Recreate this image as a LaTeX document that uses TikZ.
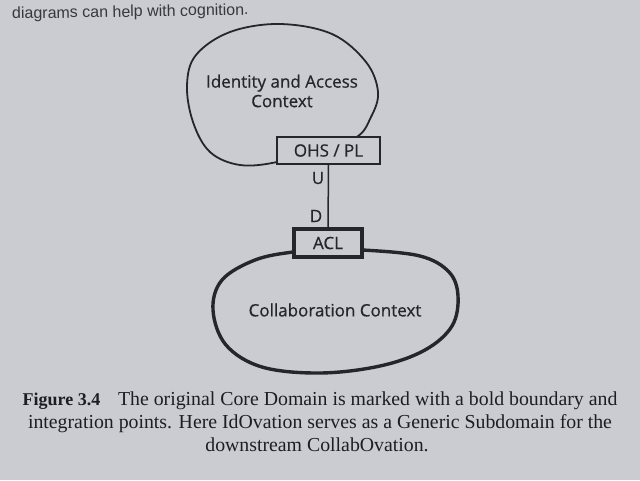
\documentclass[tikz,border=0pt]{standalone}
\usepackage{fontspec}
\setmainfont{Liberation Serif}
\newfontfamily\handfont[FakeBold=0.6]{Open Sans}
\newfontfamily\toptextfont{Liberation Sans}
\usetikzlibrary{calc}
\definecolor{paper}{RGB}{203,204,209}
\definecolor{ink}{RGB}{38,38,42}
\definecolor{printink}{RGB}{30,30,34}
\tikzset{
  blobline/.style={draw=ink, line width=1.8pt, line join=round},
  boldblob/.style={draw=ink, line width=3.4pt, line join=round},
  ctxbox/.style={draw=ink, fill=paper, line width=1.5pt, minimum width=103pt, minimum height=27pt, inner sep=0pt, font=\handfont\fontsize{17}{19}\selectfont, text=ink},
  boldbox/.style={draw=ink, fill=paper, line width=3.2pt, minimum width=68pt, minimum height=28pt, inner sep=0pt, font=\handfont\fontsize{17}{19}\selectfont, text=ink},
  ctxlabel/.style={font=\handfont\fontsize{17}{19.5}\selectfont, text=ink, align=center},
  udlabel/.style={font=\handfont\fontsize{17}{19}\selectfont, text=ink, inner sep=0pt},
  caption/.style={font=\fontsize{19.8}{23}\selectfont, text=printink, inner sep=0pt, anchor=base}
}
\begin{document}
\begin{tikzpicture}[x=1pt,y=-1pt]
\fill[paper] (0,0) rectangle (640,480);
\useasboundingbox (0,0) rectangle (640,480);
% top text
\node[font=\toptextfont\fontsize{16}{18}\selectfont, text=printink!85!paper, anchor=base west, rotate=1, inner sep=0pt] (toptext) at (12,19) {diagrams can help with cognition.};
% top blob
\draw[blobline] plot[smooth cycle, tension=0.6] coordinates {
  (310,150) (355,138) (371,117) (378,92) (366,62) (332,34) (280,24) (230,32) (196,55) (187,85) (193,122) (210,152) (240,165) (277,162)};
% bottom blob
\draw[boldblob] plot[smooth cycle, tension=0.6] coordinates {
  (328,250) (363,250) (420,256) (449,272) (458,296) (452,326) (425,350) (380,366) (320,373) (262,367) (226,345) (213,310) (222,280) (255,260) (293,252)};
% boxes
\node[ctxbox] (ohs) at (328.5,150.5) {OHS / PL};
\node[boldbox] (acl) at (328,243) {ACL};
\draw[ink, line width=1.5pt] (ohs.south) -- (acl.north);
\node[udlabel] (u) at (318,178) {U};
\node[udlabel] (d) at (316,216) {D};
% context labels
\node[ctxlabel] (iam) at (282,91) {Identity and Access\\Context};
\node[ctxlabel] (collab) at (335,310) {Collaboration Context};
% caption
\node[caption] (cap1) at (320,405) {{\bfseries\fontsize{18}{23}\selectfont Figure 3.4}\hspace{0.9em}The original Core Domain is marked with a bold boundary and};
\node[caption] (cap2) at (320,428) {integration points. Here IdOvation serves as a Generic Subdomain for the};
\node[caption] (cap3) at (317,451) {downstream CollabOvation.};
\end{tikzpicture}
\end{document}
